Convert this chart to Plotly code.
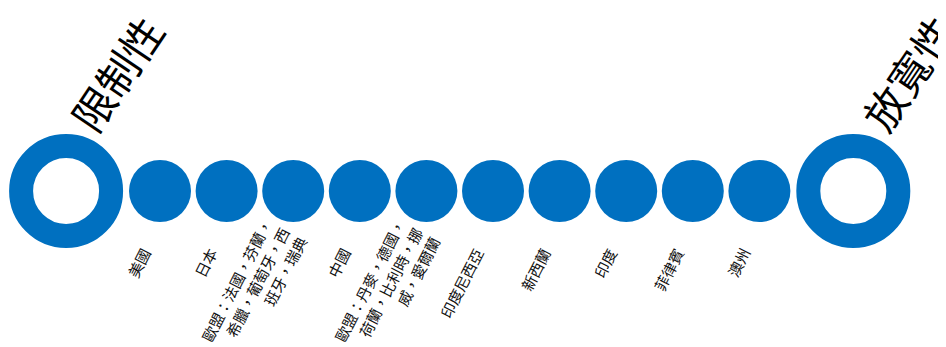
import plotly.graph_objects as go

# ---- data ----
end_labels = ["限制性", "放寬性"]
countries = [
    "美國",
    "日本",
    "歐盟：法國，芬蘭，<br>希臘，葡萄牙，西<br>班牙，瑞典",
    "中國",
    "歐盟：丹麥，德國，<br>荷蘭，比利時，挪<br>威，愛爾蘭",
    "印度尼西亞",
    "新西蘭",
    "印度",
    "菲律賓",
    "澳州",
]
rank = list(range(len(countries)))          # order along the spectrum
end_gap = 1.41                                # distance (in steps) from the ends to the nearest country
end_pos = [rank[0] - end_gap, rank[-1] + end_gap]

BLUE = "#0070C0"
FONT = "Noto Sans CJK TC"
W, H = 946, 347
OFF = 8              # page body margin offset
PX = 66.6            # pixels per step
X0 = 160 - OFF       # pixel position of first country inside figure
YC = 191 - OFF       # pixel row of the axis line inside figure

fig = go.Figure()

# end rings
fig.add_trace(go.Scatter(
    x=end_pos, y=[0, 0], mode="markers",
    marker=dict(size=90, color="white", line=dict(color=BLUE, width=24)),
    hoverinfo="skip", showlegend=False))

# country dots
fig.add_trace(go.Scatter(
    x=rank, y=[0] * len(rank), mode="markers",
    marker=dict(size=62, color=BLUE, line=dict(width=0)),
    text=[c.replace("<br>", "") for c in countries], hoverinfo="text",
    showlegend=False))

ann = []
for r, c in zip(rank, countries):
    multi = "<br>" in c
    ann.append(dict(
        x=r + (21 if multi else -2) / PX, y=-22 if multi else -51,
        xref="x", yref="y", text=c, showarrow=False,
        textangle=-63, xanchor="right", yanchor="top", align="right",
        font=dict(family=FONT, size=15, color="#111111")))

for p, t, dx in zip(end_pos, end_labels, [-13, -9]):
    ann.append(dict(x=p + dx / PX, y=46,
                    xref="x", yref="y",
                    text=t, showarrow=False, textangle=-56,
                    xanchor="left", yanchor="bottom",
                    font=dict(family=FONT, size=42, color="#000000")))

fig.update_layout(
    width=W, height=H,
    margin=dict(l=0, r=0, t=0, b=0),
    paper_bgcolor="white", plot_bgcolor="white",
    xaxis=dict(range=[-X0 / PX, (W - X0) / PX], visible=False, fixedrange=True),
    yaxis=dict(range=[-(H - YC), YC], visible=False, fixedrange=True),
    annotations=ann,
)

fig.write_html("out.html")
